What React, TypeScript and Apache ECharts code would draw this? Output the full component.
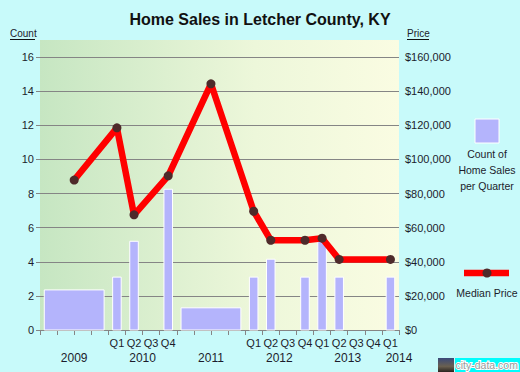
import React, { useEffect, useRef } from "react";
import * as echarts from "echarts";

// ---- data ----
const quarterLabels = [
  "", "", "", "",
  "Q1", "Q2", "Q3", "Q4",
  "", "", "", "",
  "Q1", "Q2", "Q3", "Q4",
  "Q1", "Q2", "Q3", "Q4",
  "Q1",
];
const yearNames = ["2009", "2010", "2011", "2012", "2013", "2014"];
const yearLabelPos = [2, 6, 10, 14, 18, 21];

// count bars: period start / end (in quarters from Q1 2009) and count per quarter
const countStart = [0, 4, 5, 7, 8, 12, 13, 15, 16, 17, 20];
const countEnd = [4, 5, 6, 8, 12, 13, 14, 16, 17, 18, 21];
const countValues = [2.35, 3.1, 5.2, 8.25, 1.3, 3.1, 4.15, 3.1, 5.2, 3.1, 3.1];

// median price: position (quarter centre) and value
const pricePos = [2, 4.5, 5.5, 7.5, 10, 12.5, 13.5, 15.5, 16.5, 17.5, 20.5];
const priceValues = [87900, 118500, 67500, 90400, 144300, 69600, 52600, 52600, 53800, 41400, 41400];

const FONT = "Liberation Sans, Arial, sans-serif";
const TXT = "#1c1c2c";
const GRID = "#858585";

export default function App() {
  const ref = useRef<HTMLDivElement>(null);

  useEffect(() => {
    if (!ref.current) return;
    const chart = echarts.init(ref.current, null, { renderer: "svg" });

    const barData = countStart.map((s, i) => [s, countEnd[i], countValues[i]]);
    const lineData = pricePos.map((p, i) => [p, priceValues[i]]);

    const option: any = {
      animation: false,
      backgroundColor: "#C8FAFA",
      title: {
        text: "Home Sales in Letcher County, KY",
        left: "center",
        top: 6,
        textStyle: { fontSize: 16, fontWeight: "bold", color: "#111", fontFamily: FONT },
      },
      grid: {
        left: 40,
        right: 121,
        top: 40,
        bottom: 42,
        show: true,
        borderWidth: 0,
        backgroundColor: {
          type: "linear",
          x: 0, y: 0, x2: 1, y2: 0,
          colorStops: [
            { offset: 0, color: "#C6E6C2" },
            { offset: 0.6, color: "#EDF7DA" },
            { offset: 1, color: "#FAFCE2" },
          ],
        },
      },
      xAxis: [
        {
          type: "value",
          min: 0,
          max: 21,
          interval: 1,
          position: "bottom",
          axisLine: { show: true, onZero: false, lineStyle: { color: GRID } },
          axisTick: { show: true, length: 5, lineStyle: { color: GRID } },
          axisLabel: { show: false },
          splitLine: { show: false },
        },
        {
          type: "category",
          data: quarterLabels,
          position: "bottom",
          boundaryGap: true,
          axisLine: { show: false },
          axisTick: { show: false },
          axisLabel: { interval: 0, margin: 7, fontSize: 11, color: TXT, fontFamily: FONT },
          splitLine: { show: false },
        },
        {
          type: "value",
          min: 0,
          max: 21,
          interval: 0.5,
          position: "bottom",
          axisLine: { show: false },
          axisTick: { show: false },
          splitLine: { show: false },
          axisLabel: {
            margin: 22,
            fontSize: 12,
            color: TXT,
            fontFamily: FONT,
            showMaxLabel: true,
            showMinLabel: true,
            formatter: (v: number) => {
              const i = yearLabelPos.indexOf(v);
              return i >= 0 ? yearNames[i] : "";
            },
          },
        },
      ],
      yAxis: [
        {
          type: "value",
          min: 0,
          max: 17,
          interval: 2,
          position: "left",
          axisLine: { show: false },
          axisTick: { show: true, length: 4, lineStyle: { color: GRID } },
          axisLabel: { margin: 6, fontSize: 11, color: TXT, fontFamily: FONT, showMaxLabel: false },
          splitLine: { show: true, showMaxLine: false, lineStyle: { color: GRID, width: 1 } },
        },
        {
          type: "value",
          min: 0,
          max: 170000,
          interval: 20000,
          position: "right",
          axisLine: { show: false },
          axisTick: { show: true, length: 4, lineStyle: { color: GRID } },
          axisLabel: {
            margin: 6,
            fontSize: 11,
            color: TXT,
            fontFamily: FONT,
            showMaxLabel: false,
            formatter: (v: number) => "$" + v.toLocaleString("en-US"),
          },
          splitLine: { show: false },
        },
      ],
      series: [
        {
          type: "custom",
          xAxisIndex: 0,
          yAxisIndex: 0,
          data: barData,
          encode: { x: [0, 1], y: 2 },
          renderItem: (_params: any, api: any) => {
            const s = api.value(0);
            const e = api.value(1);
            const v = api.value(2);
            const p0 = api.coord([s + 0.25, v]);
            const p1 = api.coord([e - 0.25, 0]);
            return {
              type: "rect",
              shape: { x: p0[0], y: p0[1], width: p1[0] - p0[0], height: p1[1] - p0[1] },
              style: { fill: "#B4B4FC", stroke: "#FFFFFF", lineWidth: 1 },
            };
          },
          z: 2,
        },
        {
          type: "line",
          xAxisIndex: 0,
          yAxisIndex: 1,
          data: lineData,
          symbol: "circle",
          symbolSize: 9,
          lineStyle: { color: "#FF0000", width: 6.5 },
          itemStyle: { color: "#4E2A2A", borderWidth: 0 },
          z: 3,
        },
      ],
      graphic: [
        { type: "text", left: 10, top: 28, style: { text: "Count", fontSize: 10, fontFamily: FONT, fill: TXT } },
        { type: "line", shape: { x1: 10, y1: 39.5, x2: 35, y2: 39.5 }, style: { stroke: "#111", lineWidth: 1 } },
        { type: "text", left: 407, top: 28, style: { text: "Price", fontSize: 10, fontFamily: FONT, fill: TXT } },
        { type: "line", shape: { x1: 407, y1: 39.5, x2: 429, y2: 39.5 }, style: { stroke: "#111", lineWidth: 1 } },
        // legend: count
        { type: "rect", shape: { x: 475, y: 119, width: 24, height: 24 }, style: { fill: "#B4B4FC", stroke: "#FFFFFF", lineWidth: 1 } },
        {
          type: "text",
          x: 487,
          y: 146,
          style: {
            text: "Count of\nHome Sales\nper Quarter",
            fontSize: 10.5,
            lineHeight: 16,
            fontFamily: FONT,
            fill: TXT,
            align: "center",
            verticalAlign: "top",
          },
        },
        // legend: median price
        { type: "line", shape: { x1: 464, y1: 273, x2: 509, y2: 273 }, style: { stroke: "#FF0000", lineWidth: 6.5 } },
        { type: "circle", shape: { cx: 487, cy: 273, r: 4.5 }, style: { fill: "#4E2A2A" } },
        {
          type: "text",
          x: 487,
          y: 293,
          style: { text: "Median Price", fontSize: 10.5, fontFamily: FONT, fill: TXT, align: "center", verticalAlign: "middle" },
        },
        // watermark
        {
          type: "rect",
          shape: { x: 438, y: 358, width: 16, height: 14 },
          style: {
            fill: {
              type: "linear", x: 0, y: 0, x2: 0, y2: 1,
              colorStops: [
                { offset: 0, color: "#3A4A7A" },
                { offset: 0.6, color: "#6A6050" },
                { offset: 1, color: "#2A2420" },
              ],
            },
          },
        },
        { type: "rect", shape: { x: 455, y: 358, width: 65, height: 14 }, style: { fill: "#00FCFC" } },
        {
          type: "text",
          x: 455.5,
          y: 365,
          style: {
            text: "city-data.com",
            fontSize: 10.5,
            fontFamily: FONT,
            fill: "#9A9A9A",
            stroke: "#FFFFFF",
            lineWidth: 2,
            verticalAlign: "middle",
          },
        },
      ],
    };

    chart.setOption(option);
    return () => chart.dispose();
  }, []);

  return (
    <div
      ref={ref}
      style={{ position: "fixed", left: 0, top: 0, width: 520, height: 372 }}
    />
  );
}
